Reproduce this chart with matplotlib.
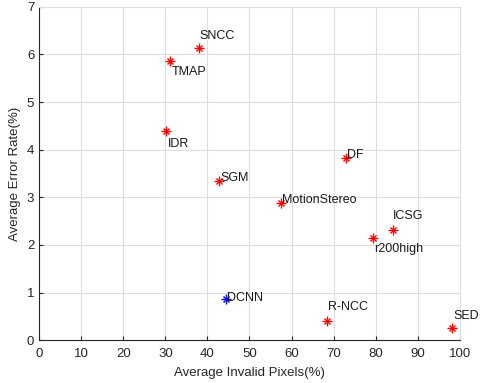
import matplotlib.pyplot as plt

plt.rcParams["font.family"] = ["Liberation Sans", "DejaVu Sans"]

names = ["SNCC", "TMAP", "IDR", "SGM", "DF", "MotionStereo", "ICSG", "r200high",
         "DCNN", "R-NCC", "SED"]
invalid = [38.0, 31.1, 30.2, 42.8, 72.9, 57.5, 84.1, 79.3, 44.4, 68.4, 98.1]
error = [6.13, 5.86, 4.39, 3.34, 3.82, 2.88, 2.31, 2.14, 0.86, 0.40, 0.25]
colors = ["red"] * 8 + ["blue"] + ["red"] * 2
# label offsets in points (dx, dy)
offsets = [(0, 9), (1, -8), (1, -9), (1, 2), (1, 2), (1, 2), (0, 10), (1, -8),
           (1, 1), (1, 10), (1, 9)]

fig = plt.figure(figsize=(4.83, 3.83), dpi=100)
ax = fig.add_axes([0.081, 0.112, 0.871, 0.870])

for x, y, c in zip(invalid, error, colors):
    ax.plot(x, y, marker="+", color=c, markersize=7, markeredgewidth=1.0, zorder=3)
    ax.plot(x, y, marker="x", color=c, markersize=5, markeredgewidth=1.0, zorder=3)

for n, x, y, (dx, dy) in zip(names, invalid, error, offsets):
    ax.annotate(n, (x, y), xytext=(dx, dy), textcoords="offset points",
                ha="left", va="center", fontsize=9, color="#1a1a1a")

ax.set_xlim(0, 100)
ax.set_ylim(0, 7)
ax.set_xticks(range(0, 101, 10))
ax.set_yticks(range(0, 8))
ax.grid(True, color="#dedede", linewidth=0.8)
ax.set_axisbelow(True)
for s in ["top", "right"]:
    ax.spines[s].set_color("#dedede")
for s in ["left", "bottom"]:
    ax.spines[s].set_color("#262626")
ax.tick_params(direction="in", length=3, labelsize=9.5, colors="#262626")
ax.tick_params(axis="x", pad=6)
ax.set_xlabel("Average Invalid Pixels(%)", fontsize=9.5, color="#262626", labelpad=5)
ax.set_ylabel("Average Error Rate(%)", fontsize=9.5, color="#262626", labelpad=4)

fig.savefig("out.png", dpi=100)
